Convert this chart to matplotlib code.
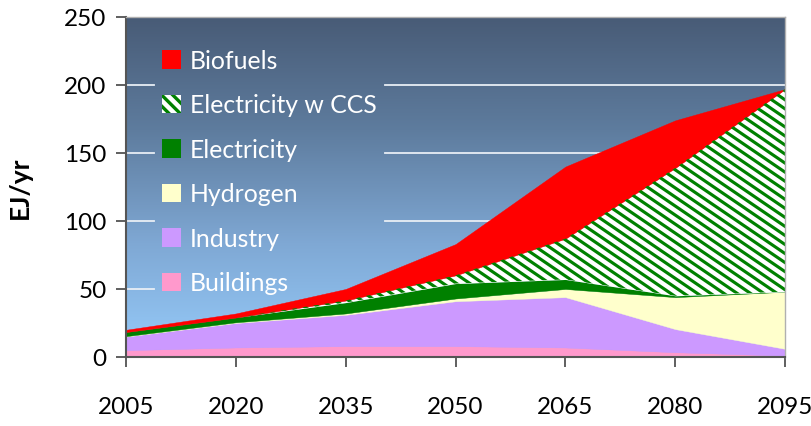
import numpy as np
import matplotlib
matplotlib.use("Agg")
import matplotlib.pyplot as plt
from matplotlib.colors import LinearSegmentedColormap
from matplotlib.collections import LineCollection
from matplotlib.patches import Patch

# Final energy use by carrier, EJ/yr
years = [2005, 2020, 2035, 2050, 2065, 2080, 2095]
buildings = [5, 7, 8, 8, 7, 3.5, 1]
industry = [10, 18, 23, 33, 37, 17, 5]
hydrogen = [0.3, 0.5, 1, 2, 6, 23.5, 42]
electricity = [3, 3.5, 8, 11, 7, 1, 0]
electricity_ccs = [0, 0, 1.5, 6, 30, 94, 149]
biofuels = [1.7, 3, 8.5, 23, 53, 35, 0]

GREEN = "#008000"
series = [
    ("Buildings", buildings, "#ff99cc", False),
    ("Industry", industry, "#cc99ff", False),
    ("Hydrogen", hydrogen, "#ffffcc", False),
    ("Electricity", electricity, GREEN, False),
    ("Electricity w CCS", electricity_ccs, "white", True),
    ("Biofuels", biofuels, "#ff0000", False),
]

y_ticks = [0, 50, 100, 150, 200, 250]

plt.rcParams["font.family"] = ["Lato", "DejaVu Sans"]
plt.rcParams["hatch.linewidth"] = 2.4
plt.rcParams["hatch.color"] = GREEN

fig = plt.figure(figsize=(8.12, 4.27), dpi=100)
ax = fig.add_axes([0.155, 0.1616, 0.812, 0.7964])

# vertical gradient background
cmap = LinearSegmentedColormap.from_list("sky", ["#96cbfa", "#7fa8d4", "#5e7c9e", "#485b76"])
grad = np.linspace(0, 1, 256).reshape(-1, 1)
ax.imshow(grad, cmap=cmap, origin="lower", aspect="auto",
          extent=[years[0], years[-1], 0, 250], zorder=0)

# gridlines, interrupted where the legend sits
for yv in y_ticks[1:-1]:
    ax.axhline(yv, xmin=0, xmax=0.042, color="#e8eef5", lw=1.3, zorder=1)
    ax.axhline(yv, xmin=0.393, xmax=1, color="#e8eef5", lw=1.3, zorder=1)

# downward diagonal stripe geometry (axes fraction) for the hatched band
fig_w_px, fig_h_px = 812, 427
ax_w_px = 0.812 * fig_w_px
ax_h_px = 0.7964 * fig_h_px
stripe_slope = 0.68          # drop per unit run, in pixels
stripe_step_px = 13.3        # horizontal spacing between stripes
run = (ax_h_px / stripe_slope) / ax_w_px
step = stripe_step_px / ax_w_px
offsets = np.arange(-run - step, 1 + step, step)
stripes = [[(u, 1.0), (u + run, 0.0)] for u in offsets]

x = np.array(years, dtype=float)
base = np.zeros(len(years))
handles = []
for name, vals, color, striped in series:
    top = base + np.array(vals, dtype=float)
    poly = ax.fill_between(x, base, top, facecolor=color, edgecolor=color,
                           linewidth=0 if striped else 0.3, zorder=2)
    if striped:
        lc = LineCollection(stripes, colors=GREEN, linewidths=2.25,
                            transform=ax.transAxes, zorder=2.5)
        ax.add_collection(lc, autolim=False)
        lc.set_clip_path(poly.get_paths()[0], ax.transData)
        handles.append(Patch(facecolor="white", edgecolor=GREEN,
                             hatch="\\\\\\", linewidth=0, label=name))
    else:
        handles.append(Patch(facecolor=color, edgecolor=color, linewidth=0, label=name))
    base = top

ax.set_xlim(years[0], years[-1])
ax.set_ylim(0, 250)
ax.set_xticks(years)
ax.set_yticks(y_ticks)
ax.tick_params(axis="x", labelsize=17.5, pad=21, length=7, width=1.2, color="#444444")
ax.tick_params(axis="y", labelsize=17.5, pad=7, length=7, width=1.2, color="#444444")

for s in ["left", "bottom"]:
    ax.spines[s].set_color("#555555")
    ax.spines[s].set_linewidth(1.5)
for s in ["top", "right"]:
    ax.spines[s].set_color("#b0b0b0")
    ax.spines[s].set_linewidth(1.0)

ax.set_ylabel("EJ/yr", fontsize=19, fontweight="bold")
ax.yaxis.set_label_coords(-0.142, 0.5)

leg = ax.legend(handles[::-1], [s[0] for s in series][::-1],
                loc="upper left", bbox_to_anchor=(0.04, 0.935),
                frameon=False, fontsize=17.8, labelcolor="white",
                handlelength=0.78, handleheight=0.78, handletextpad=0.33,
                labelspacing=0.87, borderaxespad=0)
leg.set_zorder(5)

fig.savefig("out.png", dpi=100)
